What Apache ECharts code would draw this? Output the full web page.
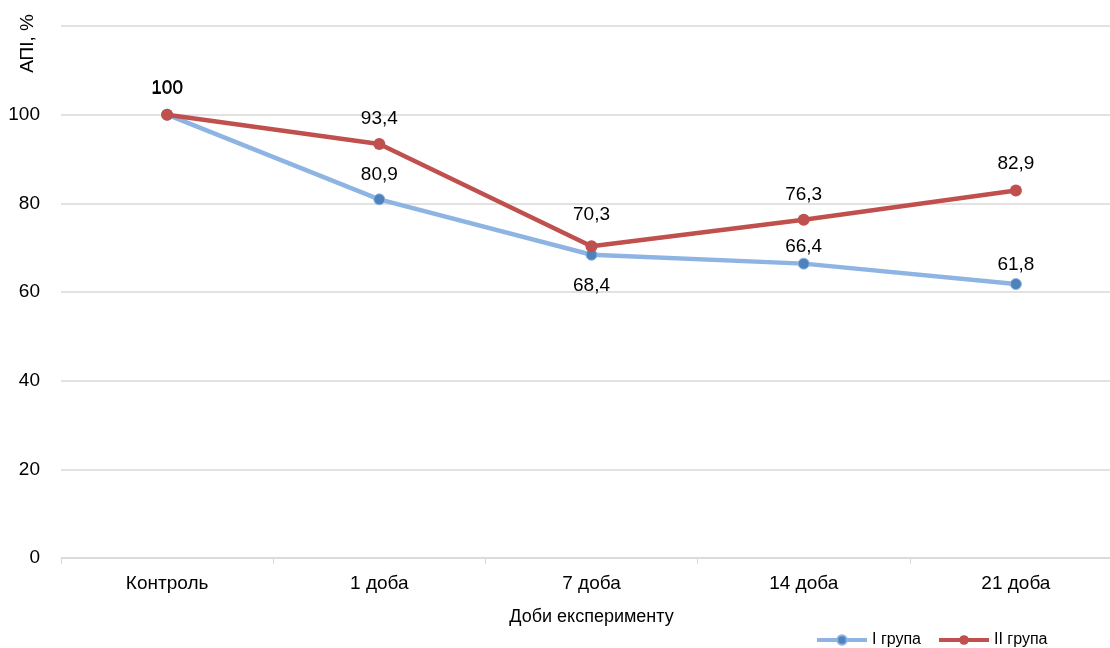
<!DOCTYPE html>
<html><head><meta charset="utf-8">
<script src="https://cdn.jsdelivr.net/npm/echarts@6/dist/echarts.min.js"></script>
<style>html,body{margin:0;padding:0;background:#fff;overflow:hidden;width:1110px;height:648px}#c{width:1122px;height:648px}</style>
</head><body><div id="c"></div>
<script>
const categories = ['Контроль', '1 доба', '7 доба', '14 доба', '21 доба'];
const group1 = [100, 80.9, 68.4, 66.4, 61.8];
const group2 = [100, 93.4, 70.3, 76.3, 82.9];
const group1LabelPos = ['top', 'top', 'bottom', 'top', 'top'];
const group1LabelDist = [10, 9, 16, 1, 4];
const group2LabelDist = [11, 10, 16, 9, 11];
const yTicks = [0, 20, 40, 60, 80, 100, 120];

const font = 'Liberation Sans, Arial, sans-serif';
const fmt = v => String(v).replace('.', ',');
const chart = echarts.init(document.getElementById('c'));
chart.setOption({
  animation: false,
  textStyle: { fontFamily: font },
  grid: { left: 61, top: 26, right: 0, bottom: 90 },
  legend: {
    left: 810, top: 627, itemWidth: 50, itemHeight: 12, itemGap: 16,
    lineStyle: { width: 4 },
    textStyle: { fontSize: 16, color: '#000', fontFamily: font },
    data: ['I група', 'II група']
  },
  xAxis: {
    type: 'category', data: categories, boundaryGap: true,
    name: 'Доби експерименту', nameLocation: 'middle', nameGap: 50,
    nameTextStyle: { fontSize: 18, color: '#000', fontFamily: font },
    axisLine: { lineStyle: { color: '#d9d9d9', width: 1.5 } },
    axisTick: { show: true, length: 6, lineStyle: { color: '#d9d9d9' } },
    axisLabel: { fontSize: 19, color: '#000', margin: 16, fontFamily: font }
  },
  yAxis: {
    type: 'value', min: yTicks[0], max: yTicks[yTicks.length - 1], interval: 20,
    axisLine: { show: false }, axisTick: { show: false },
    axisLabel: { fontSize: 19, color: '#000', margin: 21, fontFamily: font, showMaxLabel: false },
    splitLine: { lineStyle: { color: '#d9d9d9', width: 1.5 } }
  },
  graphic: [{
    type: 'text', left: 18, top: 14, rotation: Math.PI / 2,
    style: { text: 'АПІ, %', fontSize: 19, fill: '#000', font: '19px ' + font }
  }],
  series: [
    {
      name: 'I група', type: 'line', data: group1.map((v, i) => ({
        value: v, label: { position: group1LabelPos[i], distance: group1LabelDist[i] }
      })),
      lineStyle: { color: '#8DB4E2', width: 4.5 },
      itemStyle: { color: '#4F81BD', borderColor: '#8DB4E2', borderWidth: 1 },
      symbol: 'circle', symbolSize: 11,
      label: { show: true, fontSize: 19, color: '#000', fontFamily: font, formatter: p => fmt(p.value) },
      z: 2
    },
    {
      name: 'II група', type: 'line', data: group2.map((v, i) => ({
        value: v, label: { distance: group2LabelDist[i] }
      })),
      lineStyle: { color: '#C0504D', width: 4.5 },
      itemStyle: { color: '#C0504D' },
      symbol: 'circle', symbolSize: 12,
      label: { show: true, position: 'top', fontSize: 19, color: '#000', fontFamily: font, formatter: p => fmt(p.value) },
      z: 3
    }
  ]
});
</script></body></html>
